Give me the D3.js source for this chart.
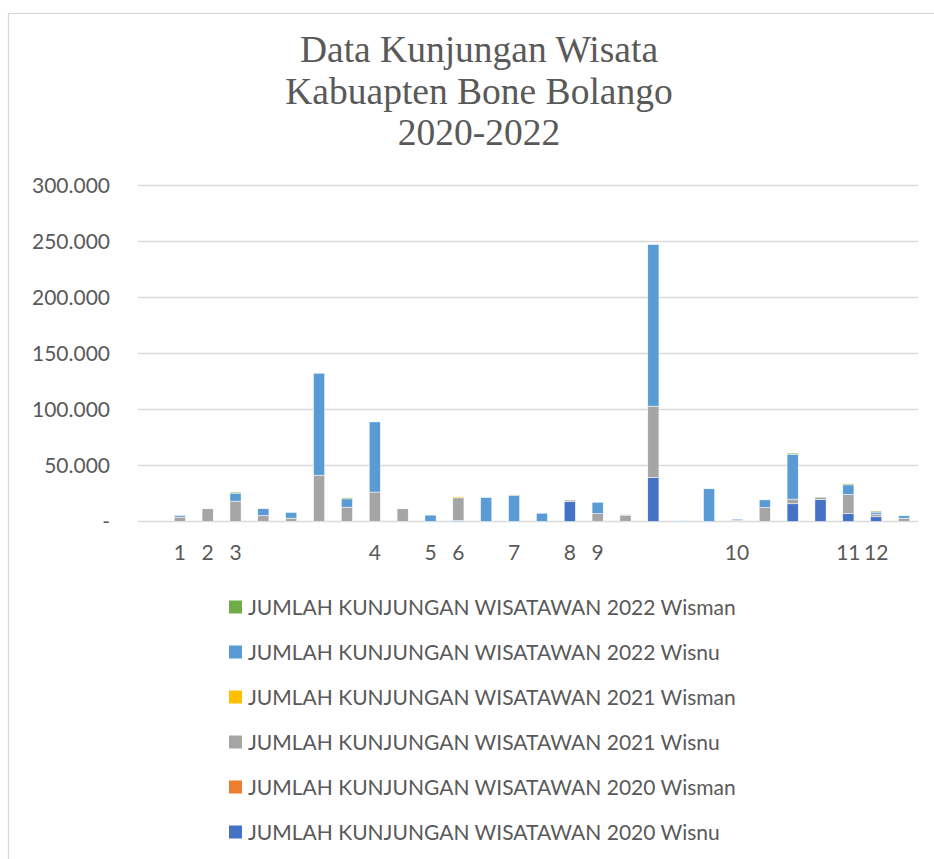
<!DOCTYPE html>
<html>
<head>
<meta charset="utf-8">
<script src="https://cdn.jsdelivr.net/npm/d3@7"></script>
<style>
  body { margin: 0; background: #fff; }
  svg { display: block; }
</style>
</head>
<body>
<div id="chart"></div>
<script>
// category labels on the x axis (only some are numbered)
var catLabels = ["", "1", "2", "3", "", "", "", "", "4", "", "5", "6", "", "7",
  "", "8", "9", "", "", "", "", "10", "", "", "", "11", "12", ""];

var seriesNames = [
  "JUMLAH KUNJUNGAN WISATAWAN 2020 Wisnu",
  "JUMLAH KUNJUNGAN WISATAWAN 2020 Wisman",
  "JUMLAH KUNJUNGAN WISATAWAN 2021 Wisnu",
  "JUMLAH KUNJUNGAN WISATAWAN 2021 Wisman",
  "JUMLAH KUNJUNGAN WISATAWAN 2022 Wisnu",
  "JUMLAH KUNJUNGAN WISATAWAN 2022 Wisman"
];
var seriesColors = ["#4472C4", "#ED7D31", "#A5A5A5", "#FFC000", "#5B9BD5", "#70AD47"];

var wisnu2020 = [0, 0, 0, 0, 0, 0, 0, 0, 0, 0, 0, 1000, 0, 0,
  0, 17600, 0, 0, 39300, 0, 0, 0, 0, 15800, 19600, 7100, 4200, 0];
var wisman2020 = [0, 0, 0, 0, 0, 0, 0, 0, 0, 0, 0, 0, 0, 0,
  0, 0, 0, 0, 0, 0, 0, 0, 0, 0, 0, 0, 0, 0];
var wisnu2021 = [0, 3900, 11300, 18200, 5400, 3000, 41400, 12800, 26300, 11300, 0, 20100, 0, 0,
  0, 1500, 7100, 5400, 63700, 0, 0, 1200, 12500, 4200, 2100, 17000, 2400, 3000];
var wisman2021 = [0, 0, 0, 0, 0, 0, 0, 0, 0, 0, 0, 900, 0, 0,
  0, 0, 0, 0, 0, 0, 0, 0, 0, 0, 0, 0, 0, 0];
var wisnu2022 = [0, 1500, 0, 7100, 6000, 5100, 91000, 7400, 62600, 0, 5700, 0, 21400, 23200,
  7400, 0, 10100, 600, 144300, 600, 29200, 900, 6800, 39800, 0, 8600, 1800, 2100];
var wisman2022 = [0, 0, 0, 900, 0, 0, 0, 900, 0, 0, 0, 0, 0, 600,
  0, 0, 0, 0, 0, 0, 0, 0, 0, 1200, 0, 900, 900, 0];

var yTicks = [0, 50000, 100000, 150000, 200000, 250000, 300000];

var svgWidth = 934;
var svgHeight = 859;
var margin = { top: 185.5, left: 138, right: 16 };
var plotBottom = 521.5;

var svg = d3.select("#chart")
  .append("svg")
  .attr("width", svgWidth)
  .attr("height", svgHeight);

// chart area border
svg.append("rect")
  .attr("x", 8.5)
  .attr("y", 13.5)
  .attr("width", 1000)
  .attr("height", 1000)
  .attr("fill", "#fff")
  .attr("stroke", "#D9D9D9")
  .attr("stroke-width", 1.3);

// title
var titleLines = ["Data Kunjungan Wisata", "Kabuapten Bone Bolango", "2020-2022"];
svg.append("g").selectAll("text")
  .data(titleLines)
  .enter()
  .append("text")
  .attr("x", 479)
  .attr("y", (d, i) => 62 + i * 41.5)
  .attr("text-anchor", "middle")
  .style("font-family", "'Liberation Serif', 'Times New Roman', serif")
  .style("font-size", "37.5px")
  .style("fill", "#595959")
  .text(d => d);

// build table for stacking
var seriesArrays = [wisnu2020, wisman2020, wisnu2021, wisman2021, wisnu2022, wisman2022];
var table = catLabels.map(function(lab, i) {
  var row = { idx: i };
  seriesArrays.forEach(function(arr, s) { row["s" + s] = arr[i]; });
  return row;
});
var keys = seriesArrays.map((a, s) => "s" + s);
var stacked = d3.stack().keys(keys)(table);

var x = d3.scaleBand()
  .domain(d3.range(catLabels.length))
  .range([margin.left, svgWidth - margin.right])
  .paddingInner(0.6)
  .paddingOuter(0.3);

var y = d3.scaleLinear()
  .domain([0, 300000])
  .range([plotBottom, margin.top]);

// gridlines
svg.append("g")
  .selectAll("line")
  .data(yTicks)
  .enter()
  .append("line")
  .attr("x1", margin.left)
  .attr("x2", svgWidth - margin.right)
  .attr("y1", d => y(d))
  .attr("y2", d => y(d))
  .attr("stroke", "#D9D9D9")
  .attr("stroke-width", 1.5);

// y axis labels
var yAxis = d3.axisLeft(y)
  .tickValues(yTicks)
  .tickSize(0)
  .tickPadding(0)
  .tickFormat(d => d === 0 ? "-" : d3.format(",")(d).replace(/,/g, "."));

var yAxisG = svg.append("g")
  .attr("transform", "translate(110,0)")
  .call(yAxis);
yAxisG.select(".domain").remove();
yAxisG.selectAll("text")
  .style("font-family", "Lato, 'Open Sans', sans-serif")
  .style("font-size", "21px")
  .style("fill", "#595959")
  .attr("dy", "0.35em");

// stacked bars
var layers = svg.append("g")
  .selectAll("g")
  .data(stacked)
  .enter()
  .append("g")
  .attr("fill", (d, i) => seriesColors[i]);

layers.selectAll("rect")
  .data(d => d.filter(p => p[1] - p[0] > 0))
  .enter()
  .append("rect")
  .attr("x", d => x(d.data.idx))
  .attr("width", x.bandwidth())
  .attr("y", d => y(d[1]))
  .attr("height", d => y(d[0]) - y(d[1]))
  .attr("stroke", "#fff")
  .attr("stroke-width", 0.5);

// x axis labels
var xAxis = d3.axisBottom(x)
  .tickSize(0)
  .tickPadding(0)
  .tickFormat(i => catLabels[i]);

var xAxisG = svg.append("g")
  .attr("transform", `translate(0, ${plotBottom})`)
  .call(xAxis);
xAxisG.select(".domain").remove();
xAxisG.selectAll("text")
  .attr("y", 38)
  .attr("dy", 0)
  .style("font-family", "Lato, 'Open Sans', sans-serif")
  .style("font-size", "21px")
  .style("fill", "#595959");

// legend, drawn top to bottom in reverse series order
var legendOrder = d3.range(seriesNames.length).reverse();
var legend = svg.append("g")
  .selectAll("g")
  .data(legendOrder)
  .enter()
  .append("g")
  .attr("transform", (d, i) => `translate(229, ${607 + i * 45})`);

legend.append("rect")
  .attr("x", 0)
  .attr("y", -6.5)
  .attr("width", 13)
  .attr("height", 13)
  .attr("fill", d => seriesColors[d]);

legend.append("text")
  .attr("x", 19)
  .attr("y", 0)
  .attr("dy", "0.36em")
  .style("font-family", "Lato, 'Open Sans', sans-serif")
  .style("font-size", "21px")
  .style("fill", "#595959")
  .text(d => seriesNames[d]);
</script>
</body>
</html>
